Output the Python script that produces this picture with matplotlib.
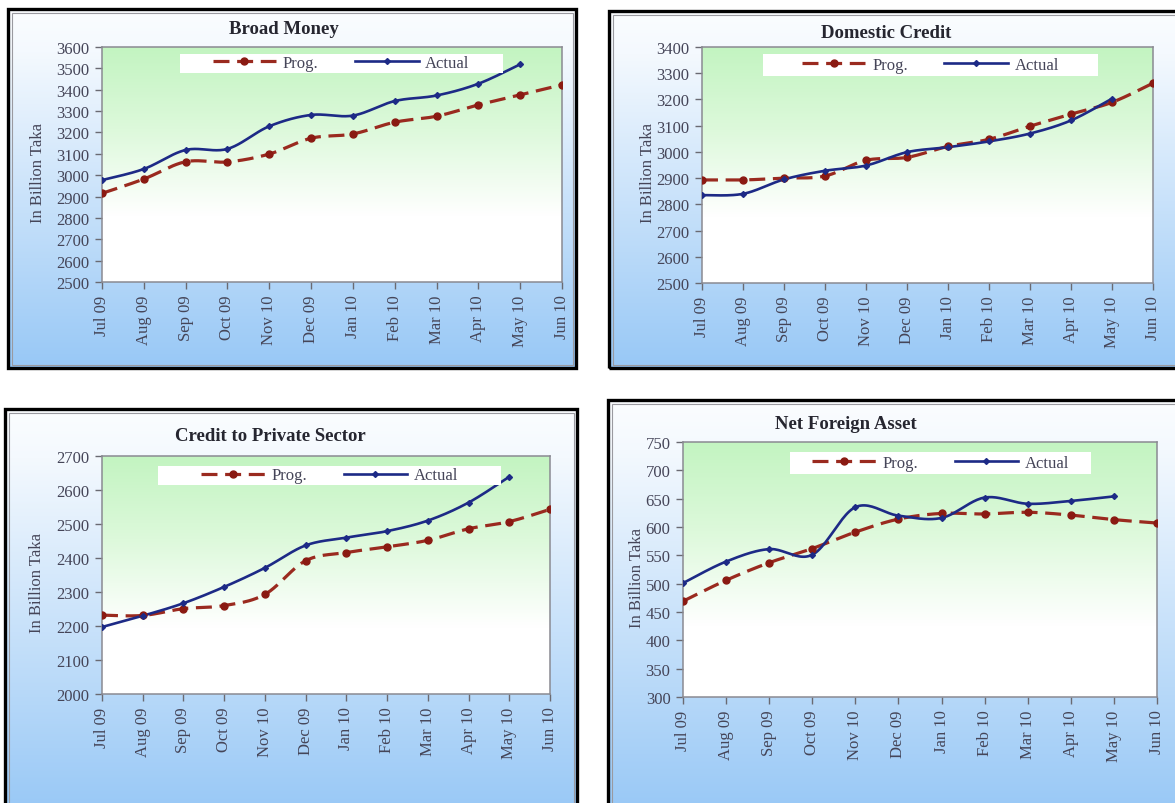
import numpy as np
import matplotlib
matplotlib.use("Agg")
import matplotlib.pyplot as plt
from matplotlib.patches import Rectangle
from matplotlib.colors import LinearSegmentedColormap

# ---- data (billion Taka) ----
months = ["Jul 09", "Aug 09", "Sep 09", "Oct 09", "Nov 10", "Dec 09",
          "Jan 10", "Feb 10", "Mar 10", "Apr 10", "May 10", "Jun 10"]

broad_prog = [2915, 2982, 3063, 3062, 3099, 3173, 3193, 3248, 3276, 3329, 3376, 3423]
broad_actual = [2977, 3029, 3118, 3123, 3229, 3282, 3279, 3347, 3373, 3428, 3519]

domestic_prog = [2893, 2893, 2900, 2908, 2968, 2979, 3021, 3048, 3098, 3144, 3189, 3262]
domestic_actual = [2835, 2840, 2895, 2928, 2948, 2999, 3018, 3040, 3070, 3120, 3203]

private_prog = [2232, 2231, 2251, 2260, 2293, 2392, 2416, 2433, 2452, 2486, 2507, 2543]
private_actual = [2197, 2230, 2267, 2315, 2371, 2437, 2460, 2479, 2510, 2563, 2639]

nfa_prog = [469, 506, 537, 562, 591, 614, 624, 623, 626, 621, 613, 607]
nfa_actual = [501, 539, 561, 551, 635, 620, 616, 652, 641, 646, 654]

FONT = "Liberation Serif"
PROG_COLOR = "#9a2a1f"
ACTUAL_COLOR = "#1d2a86"
TEXT_COLOR = "#454558"

W, H = 1175, 804


def fx(px):
    return px / W


def fy(py):
    return 1 - py / H


def smooth(values, n=24):
    """Excel-style smoothed curve: cubic Bezier segments with Catmull-Rom tangents."""
    y = np.asarray(values, float)
    x = np.arange(len(y), dtype=float)
    pts = np.column_stack([x, y])
    out = [pts[0]]
    t = np.linspace(0, 1, n)[1:, None]
    for i in range(len(pts) - 1):
        p0 = pts[i - 1] if i > 0 else pts[i]
        p1, p2 = pts[i], pts[i + 1]
        p3 = pts[i + 2] if i + 2 < len(pts) else pts[i + 1]
        c1 = p1 + (p2 - p0) / 6.0
        c2 = p2 - (p3 - p1) / 6.0
        seg = (1 - t) ** 3 * p1 + 3 * (1 - t) ** 2 * t * c1 + 3 * (1 - t) * t ** 2 * c2 + t ** 3 * p2
        out.extend(seg)
    out = np.array(out)
    return out[:, 0], out[:, 1]


chart_cmap = LinearSegmentedColormap.from_list(
    "chart", [(0.0, "#fbfdff"), (0.12, "#f4f9fe"), (1.0, "#98c8f6")])
plot_cmap = LinearSegmentedColormap.from_list(
    "plotarea", [(0.0, "#c3f4c1"), (0.35, "#ddf9db"), (0.72, "#ffffff"), (1.0, "#ffffff")])

panels = [
    dict(title="Broad Money", prog=broad_prog, actual=broad_actual,
         ylim=(2500, 3600), step=100,
         frame=(8, 10, 576, 369), plot=(102, 48, 562, 283), title_xy=(284, 30),
         legend=(0.169, 0.028, 0.871, 0.11), ylab_x=-0.122),
    dict(title="Domestic Credit", prog=domestic_prog, actual=domestic_actual,
         ylim=(2500, 3400), step=100,
         frame=(609, 12, 1185, 369), plot=(702, 48, 1153, 284), title_xy=(886, 33),
         legend=(0.135, 0.028, 0.878, 0.124), ylab_x=-0.102),
    dict(title="Credit to Private Sector", prog=private_prog, actual=private_actual,
         ylim=(2000, 2700), step=100,
         frame=(5, 410, 577, 815), plot=(102, 457, 550, 695), title_xy=(270, 437),
         legend=(0.126, 0.042, 0.891, 0.121), ylab_x=-0.127),
    dict(title="Net Foreign Asset", prog=nfa_prog, actual=nfa_actual,
         ylim=(300, 750), step=50,
         frame=(608, 401, 1185, 815), plot=(683, 443, 1157, 698), title_xy=(846, 425),
         legend=(0.226, 0.039, 0.861, 0.125), ylab_x=-0.08),
]

fig = plt.figure(figsize=(W / 100, H / 100), dpi=100)
fig.patch.set_facecolor("white")

grad = np.linspace(0, 1, 256)[:, None]

for p in panels:
    # chart area with blue gradient and black frame
    x0, y0, x1, y1 = p["frame"]
    bg = fig.add_axes([fx(x0), fy(y1), fx(x1) - fx(x0), fy(y0) - fy(y1)], zorder=0)
    bg.imshow(grad, cmap=chart_cmap, aspect="auto", extent=[0, 1, 0, 1],
              origin="upper", interpolation="bilinear")
    bg.set_xlim(0, 1)
    bg.set_ylim(0, 1)
    bg.axis("off")
    bg.add_patch(Rectangle((0, 0), 1, 1, transform=bg.transAxes, fill=False,
                           ec="black", lw=2.4, clip_on=False, zorder=5))
    inset_x = 3.5 / (x1 - x0)
    inset_y = 3.5 / (y1 - y0)
    bg.add_patch(Rectangle((inset_x, inset_y), 1 - 2 * inset_x, 1 - 2 * inset_y,
                           transform=bg.transAxes, fill=False, ec="#9a9aa0",
                           lw=0.8, clip_on=False, zorder=4))

    # plot area
    px0, py0, px1, py1 = p["plot"]
    ax = fig.add_axes([fx(px0), fy(py1), fx(px1) - fx(px0), fy(py0) - fy(py1)], zorder=1)
    ax.imshow(grad, cmap=plot_cmap, aspect="auto", extent=[0, 1, 0, 1],
              origin="upper", transform=ax.transAxes, interpolation="bilinear", zorder=0)

    xs, ys = smooth(p["prog"])
    ax.plot(xs, ys, color=PROG_COLOR, lw=2.3, dashes=(5.0, 2.4), solid_capstyle="butt",
            zorder=2)
    ax.plot(np.arange(len(p["prog"])), p["prog"], ls="none", marker="o", ms=5,
            color="#8a1a12", zorder=3)
    xa, ya = smooth(p["actual"])
    ax.plot(xa, ya, color=ACTUAL_COLOR, lw=1.9, zorder=2)
    ax.plot(np.arange(len(p["actual"])), p["actual"], ls="none", marker="D", ms=3,
            color=ACTUAL_COLOR, zorder=3)

    lo, hi = p["ylim"]
    ax.set_xlim(0, len(months) - 1)
    ax.set_ylim(lo, hi)
    ax.set_xticks(np.arange(len(months)))
    ax.set_xticklabels(months, rotation=90, fontfamily=FONT, fontsize=12, color=TEXT_COLOR)
    ax.set_yticks(np.arange(lo, hi + 1, p["step"]))
    ax.set_yticklabels([str(v) for v in np.arange(lo, hi + 1, p["step"])],
                       fontfamily=FONT, fontsize=12, color=TEXT_COLOR)
    ax.tick_params(direction="out", length=5, width=1, color="#6a6a72", pad=4)
    for s in ax.spines.values():
        s.set_color("#8a8a92")
        s.set_linewidth(1.1)

    ax.set_ylabel("In Billion Taka", fontfamily=FONT, fontsize=12, color=TEXT_COLOR)
    ax.yaxis.set_label_coords(p["ylab_x"], 0.47)

    # legend on a white band
    lx0, ltop, lx1, lbot = p["legend"]
    ax.add_patch(Rectangle((lx0, 1 - lbot), lx1 - lx0, lbot - ltop, transform=ax.transAxes,
                           fc="white", ec="none", zorder=4))
    h_prog = plt.Line2D([], [], color=PROG_COLOR, lw=2.3, dashes=(5.0, 2.4),
                        marker="o", ms=5, mfc="#8a1a12", mec="#8a1a12")
    h_act = plt.Line2D([], [], color=ACTUAL_COLOR, lw=1.9, marker="D", ms=3)
    leg = ax.legend([h_prog, h_act], ["Prog.", "Actual"], ncol=2, frameon=False,
                    loc="center", bbox_to_anchor=((lx0 + lx1) / 2, 1 - (ltop + lbot) / 2),
                    prop={"family": FONT, "size": 12}, handlelength=3.8,
                    handletextpad=0.4, columnspacing=2.2, borderpad=0.0)
    leg.set_zorder(5)
    for t in leg.get_texts():
        t.set_color(TEXT_COLOR)

    fig.text(fx(p["title_xy"][0]), fy(p["title_xy"][1]), p["title"], ha="center",
             va="center", fontfamily=FONT, fontsize=13.5, fontweight="bold", color="#262630",
             zorder=3)

fig.savefig("out.png", dpi=100, facecolor="white")
